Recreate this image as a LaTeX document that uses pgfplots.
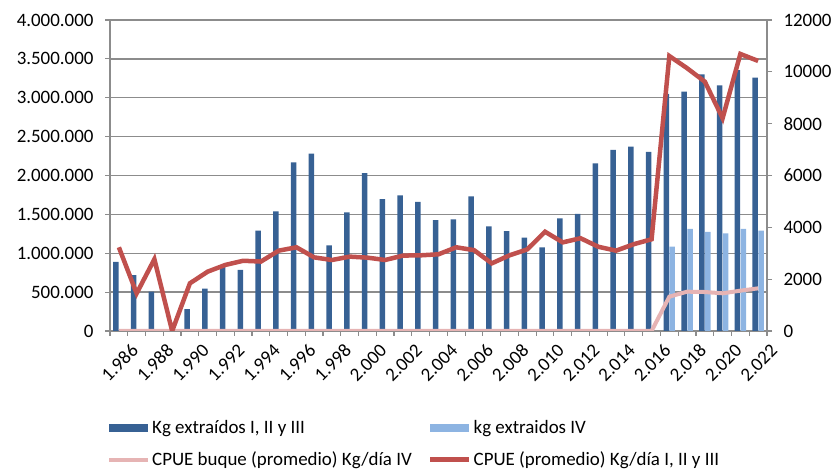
\documentclass[border=0pt]{standalone}
\usepackage{pgfplots}
\pgfplotsset{compat=1.18}
\usepackage{fontspec}
\setmainfont{Carlito}
\definecolor{darkblue}{RGB}{55,97,148}
\definecolor{lightblue}{RGB}{141,180,226}
\definecolor{cpuered}{RGB}{192,80,77}
\definecolor{cpuepink}{RGB}{230,180,180}
\definecolor{gridgray}{RGB}{140,140,140}
\newcommand{\tfont}{\fontsize{19}{22}\selectfont}
\begin{document}
\begin{tikzpicture}
\useasboundingbox (0,0) rectangle (837bp,470bp);
\begin{axis}[
  at={(110bp,139bp)}, anchor=south west,
  width=657bp, height=311bp, scale only axis,
  xmin=1985.5, xmax=2022.5,
  ymin=0, ymax=4000000,
  axis x line*=bottom, axis y line*=left,
  axis line style={draw=gridgray, line width=1.3bp, -},
  ymajorgrids, grid style={draw=gridgray, line width=1.3bp},
  tick style={draw=gridgray, line width=1.2bp},
  tick align=outside, major tick length=5bp,
  ytick={0,500000,1000000,1500000,2000000,2500000,3000000,3500000,4000000},
  yticklabels={0,500.000,1.000.000,1.500.000,2.000.000,2.500.000,3.000.000,3.500.000,4.000.000},
  scaled y ticks=false,
  yticklabel style={font=\tfont, xshift=-8bp},
  xtick={1985.5,1986.5,...,2022.5},
  xticklabels={},
  extra x ticks={1986,1988,...,2022},
  extra x tick labels={1.986,1.988,1.990,1.992,1.994,1.996,1.998,2.000,2.002,2.004,2.006,2.008,2.010,2.012,2.014,2.016,2.018,2.020,2.022},
  extra x tick style={major tick length=0pt, grid=none,
    xticklabel style={font=\tfont, rotate=45, anchor=east, yshift=-23bp, xshift=3bp}},
  ybar, bar width=5.5bp,
]
\addplot[fill=darkblue, draw=none, bar shift=-2.9bp] coordinates {
(1986,890000) (1987,720000) (1988,505000) (1990,280000) (1991,545000)
(1992,835000) (1993,785000) (1994,1290000) (1995,1540000) (1996,2170000)
(1997,2280000) (1998,1100000) (1999,1525000) (2000,2030000) (2001,1695000)
(2002,1745000) (2003,1660000) (2004,1425000) (2005,1435000) (2006,1730000)
(2007,1345000) (2008,1285000) (2009,1200000) (2010,1075000) (2011,1450000)
(2012,1505000) (2013,2155000) (2014,2330000) (2015,2370000) (2016,2305000)
(2017,3050000) (2018,3080000) (2019,3300000) (2020,3160000) (2021,3355000)
(2022,3260000)};
\addplot[fill=lightblue, draw=none, bar shift=2.9bp] coordinates {
(2017,1085000) (2018,1315000) (2019,1275000) (2020,1255000) (2021,1315000) (2022,1290000)};
\end{axis}
\begin{axis}[
  at={(110bp,139bp)}, anchor=south west,
  width=657bp, height=311bp, scale only axis,
  xmin=1985.5, xmax=2022.5,
  ymin=0, ymax=12000,
  axis x line=none, axis y line*=right,
  axis line style={draw=gridgray, line width=1.3bp, -},
  tick style={draw=gridgray, line width=1.2bp},
  tick align=outside, major tick length=5bp,
  ytick={0,2000,4000,6000,8000,10000,12000},
  yticklabels={0,2000,4000,6000,8000,10000,12000},
  scaled y ticks=false,
  yticklabel style={font=\tfont, xshift=8bp},
  legend columns=2,
  legend cell align=left,
  legend style={at={(axis description cs:-0.0046,-0.28)}, anchor=north west,
    draw=none, fill=none, font=\tfont, inner sep=0pt, row sep=13bp},
  legend image code/.code={\draw[#1] (0bp,0bp) -- (39bp,0bp);},
]
\addlegendimage{legend image code/.code={\fill[darkblue] (0bp,-3.75bp) rectangle (38bp,3.75bp);}}
\addlegendentry{\makebox[274bp][l]{Kg extraídos I, II y III}}
\addlegendimage{legend image code/.code={\fill[lightblue] (0bp,-3.75bp) rectangle (38bp,3.75bp);}}
\addlegendentry{kg extraidos IV}
\addplot[cpuepink, line width=4bp] coordinates {
(1986,0) (1987,0) (1988,0) (1989,0) (1990,0) (1991,0) (1992,0) (1993,0) (1994,0)
(1995,0) (1996,0) (1997,0) (1998,0) (1999,0) (2000,0) (2001,0) (2002,0) (2003,0)
(2004,0) (2005,0) (2006,0) (2007,0) (2008,0) (2009,0) (2010,0) (2011,0) (2012,0)
(2013,0) (2014,0) (2015,0) (2016,0) (2017,1325) (2018,1517) (2019,1504)
(2020,1454) (2021,1556) (2022,1646)};
\addlegendentry{\makebox[274bp][l]{CPUE buque (promedio) Kg/día IV}}
\addplot[cpuered, line width=4.5bp] coordinates {
(1986,3230) (1987,1450) (1988,2770) (1989,0) (1990,1840) (1991,2290) (1992,2550)
(1993,2710) (1994,2680) (1995,3100) (1996,3230) (1997,2840) (1998,2740) (1999,2870)
(2000,2830) (2001,2740) (2002,2910) (2003,2920) (2004,2960) (2005,3230) (2006,3120)
(2007,2610) (2008,2920) (2009,3150) (2010,3830) (2011,3420) (2012,3580) (2013,3250)
(2014,3100) (2015,3350) (2016,3540) (2017,10610) (2018,10140) (2019,9620)
(2020,8210) (2021,10690) (2022,10420)};
\addlegendentry{CPUE (promedio) Kg/día I, II y III}
\end{axis}
\end{tikzpicture}
\end{document}
